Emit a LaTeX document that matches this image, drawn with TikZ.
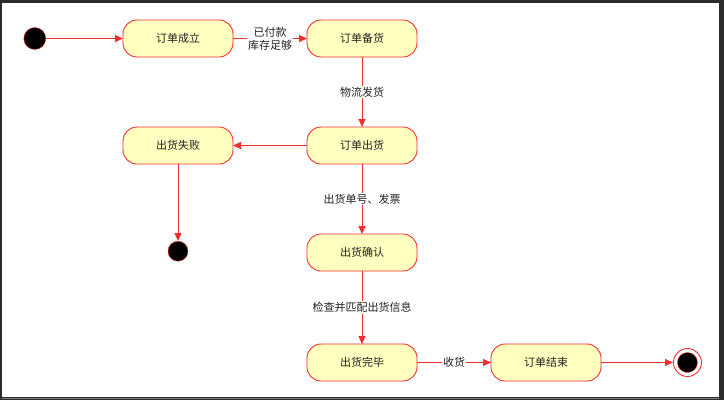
\documentclass[tikz,border=0pt]{standalone}
\usepackage{fontspec}
\setmainfont{Noto Sans CJK SC}
\usepackage{xcolor}
\usetikzlibrary{arrows.meta,positioning}
\definecolor{umlred}{HTML}{F03030}
\definecolor{umlfill}{HTML}{FFFFC0}
\definecolor{umltext}{HTML}{222222}
\definecolor{framedark}{HTML}{2B2B2B}
\begin{document}
\begin{tikzpicture}[x=1pt,y=-1pt,>={Triangle[length=8pt,width=7pt]},node distance=70pt and 74pt,
 state/.style={draw=umlred,line width=0.9pt,outer sep=0pt,fill=umlfill,rounded corners=14pt,minimum width=110pt,minimum height=37pt,text=umltext,font=\fontsize{11}{13}\selectfont},
 arr/.style={->,draw=umlred,line width=1pt},
 lbl/.style={fill=white,inner sep=1pt,align=center,text=umltext,font=\fontsize{11}{13}\selectfont}]
% frame
\fill[framedark] (0,0) rectangle (724,400);
\fill[white] (2,3) rectangle (719,397);
\draw[gray,line width=1pt] (2,398)--(719,398);
% states
\node[state] at (178,38.5) (placed) {订单成立};
\node[state,right=of placed] (prepare) {订单备货};
\node[state,below=of prepare] (ship) {订单出货};
\node[state,left=of ship] (fail) {出货失败};
\node[state,below=of ship] (confirm) {出货确认};
\node[state,below=73pt of confirm] (done) {出货完毕};
\node[state,right=of done] (closed) {订单结束};
\node[circle,draw=umlred,fill=black,minimum size=22pt,inner sep=0pt,left=77pt of placed] (start) {};
\node[circle,draw=umlred,fill=black,minimum size=20pt,inner sep=0pt,below=77pt of fail] (failend) {};
\node[circle,draw=umlred,line width=0.9pt,fill=white,minimum size=28pt,inner sep=0pt,right=72pt of closed] (finish) {};
\node[circle,draw=umlred,fill=black,minimum size=20pt,inner sep=0pt] at (finish) (finishcore) {};
% transitions
\draw[arr] (start)--(placed);
\draw[arr] (placed)--node[lbl]{已付款\\库存足够}(prepare);
\draw[arr] (prepare)--node[lbl]{物流发货}(ship);
\draw[arr] (ship)--(fail);
\draw[arr] (fail)--(failend);
\draw[arr] (ship)--node[lbl]{出货单号、发票}(confirm);
\draw[arr] (confirm)--node[lbl]{检查并匹配出货信息}(done);
\draw[arr] (done)--node[lbl]{收货}(closed);
\draw[arr] (closed)--(finish);
\end{tikzpicture}
\end{document}
